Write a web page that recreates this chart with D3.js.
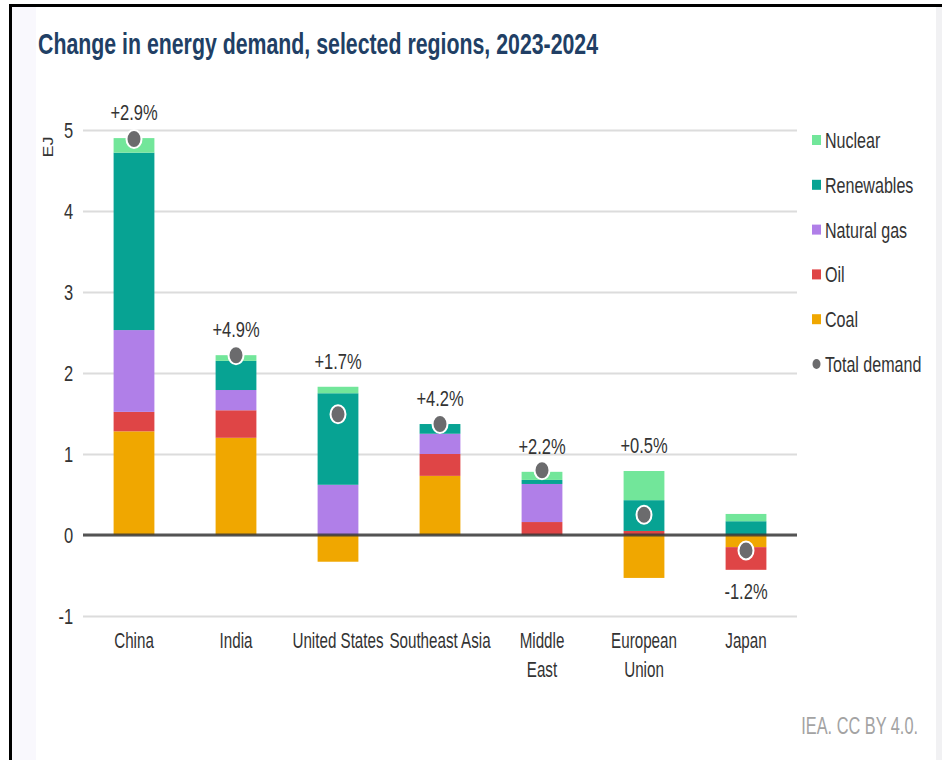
<!DOCTYPE html>
<html>
<head>
<meta charset="utf-8">
<script src="https://cdn.jsdelivr.net/npm/d3@7"></script>
<style>
	body { margin: 0; background: #fff; }
	svg { display: block; font-family: 'Liberation Sans', Arial, sans-serif; }
</style>
</head>
<body>
<div id="chart"></div>
<script>
// ********** STACKED BAR CHART - ENERGY DEMAND CHANGE **********

// Chart data (EJ)
const regions = ['China', 'India', 'United States', 'Southeast Asia', 'Middle East', 'European Union', 'Japan'];
const coal = [1.28, 1.20, -0.33, 0.73, 0.00, -0.53, -0.15];
const oil = [0.24, 0.34, 0.00, 0.27, 0.16, 0.05, -0.28];
const naturalGas = [1.01, 0.25, 0.62, 0.25, 0.47, 0.00, 0.00];
const renewables = [2.19, 0.36, 1.13, 0.12, 0.05, 0.38, 0.17];
const nuclear = [0.18, 0.07, 0.08, 0.00, 0.10, 0.36, 0.09];
const totalDemand = [4.89, 2.22, 1.49, 1.37, 0.80, 0.25, -0.19];
const changeLabels = ['+2.9%', '+4.9%', '+1.7%', '+4.2%', '+2.2%', '+0.5%', '-1.2%'];
const yTicks = [-1, 0, 1, 2, 3, 4, 5];

// Series order, bottom to top
const seriesKeys = ['Coal', 'Oil', 'Natural gas', 'Renewables', 'Nuclear'];
const seriesValues = {
	'Coal': coal,
	'Oil': oil,
	'Natural gas': naturalGas,
	'Renewables': renewables,
	'Nuclear': nuclear
};

// Colour function
const colors = (key) => {
	const colorRange = {
		'Nuclear': '#72e69a',
		'Renewables': '#07a393',
		'Natural gas': '#b07fe8',
		'Oil': '#df4546',
		'Coal': '#f0a700'
	};
	return colorRange[key];
};

const width = 942;
const height = 760;
const plot = { left: 83, right: 797, top: 130, bottom: 616 };

// No narrow font installed - squeeze text horizontally instead
const squeeze = (sel, x, y, sx) => sel.attr('transform', `translate(${x}, ${y}) scale(${sx}, 1)`);

// Build table for d3.stack
const table = regions.map((r, i) => {
	const row = { region: r };
	seriesKeys.forEach(k => { row[k] = seriesValues[k][i]; });
	return row;
});

const stacked = d3.stack()
	.keys(seriesKeys)
	.offset(d3.stackOffsetDiverging)(table);

const svg = d3.select('#chart')
	.append('svg')
	.attr('width', width)
	.attr('height', height);

// Background & frame
svg.append('rect').attr('x', 0).attr('y', 0).attr('width', width).attr('height', height).attr('fill', '#fff');
svg.append('rect').attr('x', 12).attr('y', 7).attr('width', 24).attr('height', height).attr('fill', '#f9f8fd');
svg.append('rect').attr('x', 936).attr('y', 7).attr('width', 6).attr('height', height).attr('fill', '#f1f1f3');
svg.append('line').attr('x1', 10.5).attr('x2', 10.5).attr('y1', 4).attr('y2', height)
	.attr('stroke', '#000').attr('stroke-width', 3);
svg.append('line').attr('x1', 9).attr('x2', width).attr('y1', 5.5).attr('y2', 5.5)
	.attr('stroke', '#000').attr('stroke-width', 3);

// Title
svg.append('text')
	.call(squeeze, 38, 54, 0.735)
	.attr('fill', '#213f65')
	.style('font-size', '29px')
	.style('font-weight', 'bold')
	.text('Change in energy demand, selected regions, 2023-2024');

// Scales
const xScale = d3.scaleBand()
	.domain(regions)
	.range([plot.left, plot.right])
	.paddingInner(0.6)
	.paddingOuter(0.3);

const yScale = d3.scaleLinear()
	.domain([-1, 5])
	.range([plot.bottom, plot.top]);

// Gridlines
const grid = svg.append('g')
	.attr('class', 'grid')
	.attr('transform', `translate(${plot.left}, 0)`)
	.call(d3.axisLeft(yScale).tickValues(yTicks).tickSize(-(plot.right - plot.left)).tickFormat(''));
grid.select('.domain').remove();
grid.selectAll('line').attr('stroke', '#dcdcdc').attr('stroke-width', 2);

// Y axis labels
const yAxis = svg.append('g')
	.attr('class', 'y axis')
	.attr('transform', `translate(${plot.left}, 0)`)
	.call(d3.axisLeft(yScale).tickValues(yTicks).tickSize(0).tickPadding(13).tickFormat(d => String(d)));
yAxis.select('.domain').remove();
yAxis.selectAll('text')
	.style('font-size', '22px')
	.attr('fill', '#333')
	.attr('transform', 'scale(0.75, 1)');

// Y axis title
svg.append('text')
	.attr('transform', 'translate(53, 147) rotate(-90) scale(1, 0.85)')
	.style('text-anchor', 'middle')
	.style('font-size', '18px')
	.attr('fill', '#333')
	.text('EJ');

// Bars
const body = svg.append('g').attr('class', 'body');
body.selectAll('g.series')
	.data(stacked)
	.join('g')
	.attr('class', 'series')
	.attr('fill', d => colors(d.key))
	.selectAll('rect')
	.data(d => d)
	.join('rect')
	.attr('x', d => xScale(d.data.region))
	.attr('y', d => yScale(Math.max(d[0], d[1])))
	.attr('height', d => Math.abs(yScale(d[0]) - yScale(d[1])))
	.attr('width', xScale.bandwidth());

// Zero line
svg.append('line')
	.attr('x1', plot.left)
	.attr('x2', plot.right)
	.attr('y1', yScale(0))
	.attr('y2', yScale(0))
	.attr('stroke', '#3a3a3a')
	.attr('stroke-opacity', 0.85)
	.attr('stroke-width', 3);

// Total demand markers
const cx = r => xScale(r) + xScale.bandwidth() / 2;
svg.selectAll('ellipse.total')
	.data(regions)
	.join('ellipse')
	.attr('class', 'total')
	.attr('cx', d => cx(d))
	.attr('cy', (d, i) => yScale(totalDemand[i]))
	.attr('rx', 7.5)
	.attr('ry', 9)
	.attr('fill', '#6b6b6d')
	.attr('stroke', '#fff')
	.attr('stroke-width', 2);

// Percentage change labels
const posTop = regions.map((r, i) => d3.sum(seriesKeys, k => Math.max(0, seriesValues[k][i])));
const negBottom = regions.map((r, i) => d3.sum(seriesKeys, k => Math.min(0, seriesValues[k][i])));
svg.selectAll('text.change')
	.data(regions)
	.join('text')
	.attr('class', 'change')
	.each(function(d, i) {
		const y = totalDemand[i] >= 0 ? yScale(posTop[i]) - 18 : yScale(negBottom[i]) + 29;
		d3.select(this).call(squeeze, cx(d), y, 0.75);
	})
	.style('text-anchor', 'middle')
	.style('font-size', '22px')
	.attr('fill', '#333')
	.text((d, i) => changeLabels[i]);

// X axis category labels
const xAxis = svg.append('g')
	.attr('class', 'x axis')
	.attr('transform', `translate(0, ${plot.bottom})`)
	.call(d3.axisBottom(xScale).tickSize(0).tickPadding(0).tickFormat(''));
xAxis.select('.domain').remove();
const labelLines = {
	'Middle East': ['Middle', 'East'],
	'European Union': ['European', 'Union']
};
xAxis.selectAll('.tick text').remove();
xAxis.selectAll('.tick')
	.append('text')
	.attr('transform', 'scale(0.69, 1)')
	.attr('fill', '#333')
	.style('text-anchor', 'middle')
	.style('font-size', '22px')
	.selectAll('tspan')
	.data(d => labelLines[d] || [d])
	.join('tspan')
	.attr('x', 0)
	.attr('y', (d, i) => 32 + i * 29)
	.text(d => d);

// Legend
const legendKeys = ['Nuclear', 'Renewables', 'Natural gas', 'Oil', 'Coal', 'Total demand'];
const legend = svg.append('g')
	.attr('class', 'legend')
	.attr('transform', 'translate(812, 140)');
const items = legend.selectAll('g.item')
	.data(legendKeys)
	.join('g')
	.attr('class', 'item')
	.attr('transform', (d, i) => `translate(0, ${i * 44.8})`);
items.filter(d => d !== 'Total demand')
	.append('rect')
	.attr('x', 0)
	.attr('y', -5)
	.attr('width', 9)
	.attr('height', 10)
	.attr('fill', d => colors(d));
items.filter(d => d === 'Total demand')
	.append('ellipse')
	.attr('cx', 4.5)
	.attr('cy', 0)
	.attr('rx', 4)
	.attr('ry', 5)
	.attr('fill', '#6b6b6d');
items.append('text')
	.call(squeeze, 13, 8, 0.73)
	.style('font-size', '22px')
	.attr('fill', '#333')
	.text(d => d);

// Source
svg.append('text')
	.call(squeeze, 918, 734, 0.71)
	.style('text-anchor', 'end')
	.style('font-size', '23px')
	.attr('fill', '#a3a3a3')
	.text('IEA. CC BY 4.0.');
</script>
</body>
</html>
